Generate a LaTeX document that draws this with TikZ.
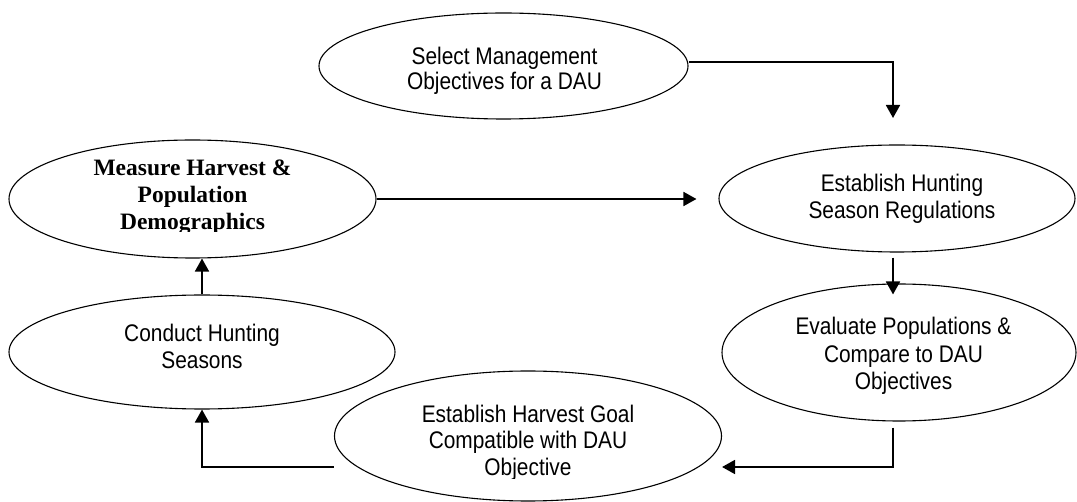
\documentclass[tikz,border=0pt]{standalone}
\usepackage{fontspec}
\setmainfont{Liberation Sans}[FakeStretch=0.87]
\newfontfamily\serifbold{Liberation Serif}
\usetikzlibrary{shapes.geometric, arrows.meta, positioning, calc}

\begin{document}
\begin{tikzpicture}[x=1pt,y=-1pt,
  oval/.style={ellipse,draw,line width=1.1pt,inner sep=0pt},
  flow/.style={line width=1.8pt,-{Triangle[length=13pt,width=14pt]}},
  steptext/.style={align=center,inner sep=0pt,anchor=base,font=\fontsize{24}{27}\selectfont}]
\useasboundingbox (0,0) rectangle (1077,502);
% ovals
\node[oval,minimum width=369pt,minimum height=106pt] (select) at (503.5,66) {};
\node[oval,minimum width=356pt,minimum height=107pt] (estab) at (897,198.5) {};
\node[oval,minimum width=367pt,minimum height=118pt] (measure) at (192.5,199) {};
\node[oval,minimum width=386pt,minimum height=114pt] (conduct) at (202,352) {};
\node[oval,minimum width=354pt,minimum height=137pt] (evaluate) at (899,352.5) {};
\node[oval,minimum width=387pt,minimum height=130pt] (harvest) at (528,436) {};
% texts (placed at the baseline of their last line)
\node[steptext,font=\fontsize{24}{25}\selectfont] (selectText) at (504.5,90) {Select Management\\Objectives for a DAU};
\node[steptext] (estabText) at (902,219) {Establish Hunting\\Season Regulations};
\node[steptext] (conductText) at (202,369) {Conduct Hunting\\Seasons};
\node[steptext,font=\fontsize{24}{27.5}\selectfont] (evaluateText) at (903.5,390) {Evaluate Populations \&\\Compare to DAU\\Objectives};
\begin{scope}
\clip (0,0) rectangle (1077,232);
\node[steptext,font={\serifbold\bfseries\fontsize{23.5}{27}\selectfont}] (measureText) at (192.5,230) {Measure Harvest \&\\Population\\Demographics};
\end{scope}
\begin{scope}
\clip (0,0) rectangle (1077,479);
\node[steptext] (harvestText) at (528,476) {Establish Harvest Goal\\Compatible with DAU\\Objective};
\end{scope}
% connectors
\coordinate (selectCorner) at (893,62);
\coordinate (selectTip) at (893,118);
\draw[line width=1.2pt] (select.east |- selectCorner) -- (selectCorner);
\draw[flow] ($(selectCorner)+(0,-0.6)$) -- (selectTip);
\draw[flow] (measure.east) -- ($(measure.east -| estab.west)+(-22,0)$);
\draw[flow] ($(estab.south)+(-4,5)$) -- ($(evaluate.north)+(-6,11)$);
\coordinate (evalCorner) at (893,467);
\draw[flow] ($(evaluate.south)+(-6,6)$) -- (evalCorner) -- (evalCorner -| harvest.east);
\coordinate (harvCorner) at (202,467);
\draw[flow] (harvest.west |- harvCorner) -- (harvCorner) -- (conduct.south);
\draw[flow] (conduct.north) -- (conduct.north |- measure.south);
\end{tikzpicture}
\end{document}
